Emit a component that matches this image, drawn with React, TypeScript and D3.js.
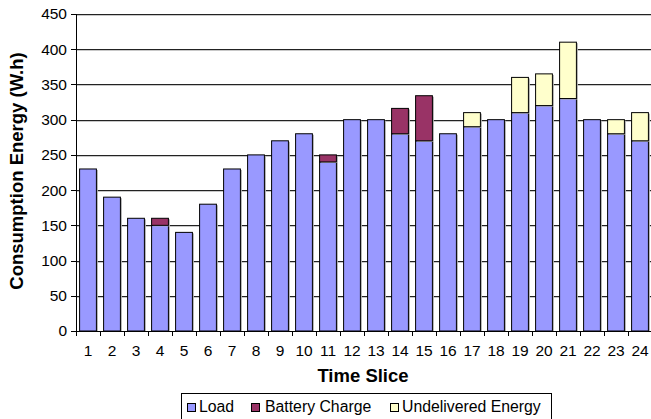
import React from "react";
import * as d3 from "d3";

const categories = ["1","2","3","4","5","6","7","8","9","10","11","12","13","14","15","16","17","18","19","20","21","22","23","24"];
const load = [230,190,160,150,140,180,230,250,270,280,240,300,300,280,270,280,290,300,310,320,330,300,280,270];
const battery = [0,0,0,10,0,0,0,0,0,0,10,0,0,36,64,0,0,0,0,0,0,0,0,0];
const undelivered = [0,0,0,0,0,0,0,0,0,0,0,0,0,0,0,0,20,0,50,45,80,0,20,40];
const yTicks = [0,50,100,150,200,250,300,350,400,450];
const seriesNames = ["Load","Battery Charge","Undelivered Energy"];
const seriesColors = ["#9999FF","#993366","#FFFFCC"];

const W = 651, H = 419;
const FONT = "'Liberation Sans', Arial, sans-serif";

export default function App() {
  const x = d3.scaleBand<string>().domain(categories).range([76, 652]).paddingInner(0.3).paddingOuter(0.15);
  const y = d3.scaleLinear().domain([0, 450]).range([331, 14]);
  const rows = categories.map((c, i) => ({ c, Load: load[i], "Battery Charge": battery[i], "Undelivered Energy": undelivered[i] }));
  const stack = d3.stack<any>().keys(seriesNames)(rows);
  const step = x.step();
  const x0 = x.range()[0];

  const legendItems = [
    { sx: 187, tx: 199 },
    { sx: 251, tx: 265 },
    { sx: 390, tx: 402 },
  ];

  return (
    <svg width={W} height={H} style={{ position: "absolute", left: 0, top: 0, background: "#fff" }} fontFamily={FONT}>
      {yTicks.filter(t => t > 0).map(t => (
        <g key={"g" + t}>
          <line x1={76} x2={651} y1={Math.round(y(t)) + 1.5} y2={Math.round(y(t)) + 1.5} stroke="#c8c8c8" strokeWidth={1} />
          <line x1={76} x2={651} y1={Math.round(y(t)) + 0.5} y2={Math.round(y(t)) + 0.5} stroke="#222" strokeWidth={1} />
        </g>
      ))}
      {stack.map((s, si) => (
        <g key={s.key}>
          {s.map((d, i) => (d[1] - d[0] > 0 ? (
            <g key={i}>
              <rect x={(x(categories[i]) as number) + 1.5} y={y(d[1]) + 1} width={x.bandwidth()} height={y(d[0]) - y(d[1])} fill="#b0b0b0" />
              <rect x={x(categories[i])} y={y(d[1])} width={x.bandwidth()} height={y(d[0]) - y(d[1])}
                fill={seriesColors[si]} stroke="#000" strokeWidth={1} />
            </g>
          ) : null))}
        </g>
      ))}
      <line x1={76.5} x2={76.5} y1={14} y2={331} stroke="#000" />
      <line x1={76} x2={651} y1={331.5} y2={331.5} stroke="#000" />
      {yTicks.map(t => (
        <g key={"y" + t}>
          <line x1={71} x2={76} y1={Math.round(y(t)) + 0.5} y2={Math.round(y(t)) + 0.5} stroke="#000" />
          <text x={67} y={y(t)} dy="0.35em" textAnchor="end" fontSize={15.5}>{t}</text>
        </g>
      ))}
      {d3.range(categories.length + 1).map(i => (
        <line key={"xt" + i} x1={Math.round(x0 + i * step) + 0.5} x2={Math.round(x0 + i * step) + 0.5} y1={331} y2={336} stroke="#000" />
      ))}
      {categories.map(c => (
        <text key={"xl" + c} x={(x(c) as number) + x.bandwidth() / 2} y={356} textAnchor="middle" fontSize={15.5}>{c}</text>
      ))}
      <text x={363} y={382} textAnchor="middle" fontSize={18.5} fontWeight="bold">Time Slice</text>
      <text transform={`translate(23,171) rotate(-90)`} textAnchor="middle" fontSize={18.5} fontWeight="bold">Consumption Energy (W.h)</text>
      <rect x={181.5} y={393.5} width={370} height={30} fill="#fff" stroke="#000" />
      {seriesNames.map((n, i) => (
        <g key={n}>
          <rect x={legendItems[i].sx + 0.5} y={403.5} width={8} height={8} fill={seriesColors[i]} stroke="#000" />
          <text x={legendItems[i].tx} y={412} fontSize={15.8}>{n}</text>
        </g>
      ))}
    </svg>
  );
}
